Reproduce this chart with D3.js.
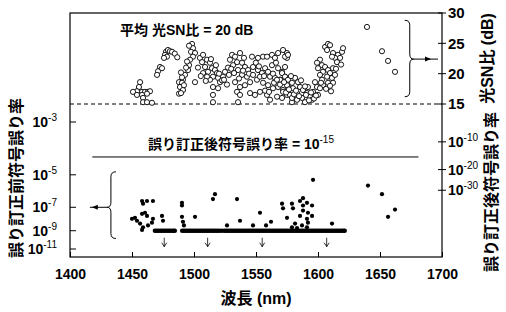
<!DOCTYPE html>
<html>
<head>
<meta charset="utf-8">
<script src="https://cdn.jsdelivr.net/npm/d3@7"></script>
<style>
  body { margin: 0; background: #fff; }
  svg { display: block; }
</style>
</head>
<body>
<script>
// upper panel: OSNR per channel (wavelength nm, dB)
const osnrWl = [
  1477.4,1479.0,1480.6,1476.6,1478.2,1475.8,1472.6,1471.0,1470.2,1456.5,1455.6,1454.0,1450.8,1458.1,1460.5,
  1462.9,1464.5,1454.0,1458.1,1462.1,1458.9,1458.9,1462.1,1466.1,1487.9,1487.9,1482.3,1498.4,1499.2,1497.6,
  1500.8,1499.2,1496.8,1496.0,1495.2,1492.7,1491.1,1490.3,1488.7,1491.1,1489.5,1491.9,1500.8,1504.8,1507.3,
  1506.5,1510.5,1512.9,1508.9,1514.5,1516.9,1511.3,1518.6,1507.3,1515.3,1519.4,1512.9,1521.0,1510.5,1523.4,
  1525.0,1515.3,1515.3,1530.7,1533.1,1537.1,1529.0,1534.7,1538.7,1531.5,1541.1,1535.5,1543.6,1538.7,1533.1,
  1537.1,1534.7,1537.1,1541.1,1545.2,1546.8,1551.6,1555.7,1558.9,1562.9,1565.3,1547.6,1551.6,1554.8,1557.3,
  1559.7,1562.9,1566.1,1567.8,1571.0,1573.4,1561.3,1565.3,1569.4,1573.4,1550.8,1555.7,1559.7,1563.7,1567.8,
  1571.8,1553.2,1549.2,1558.9,1561.3,1567.0,1571.0,1575.0,1575.8,1545.2,1575.0,1571.8,1567.8,1515.3,1535.5,
  1575.0,1573.4,1571.0,1573.4,1569.4,1575.8,1579.0,1581.5,1583.9,1575.0,1579.8,1585.5,1587.9,1583.1,1577.4,
  1591.1,1587.1,1593.6,1589.5,1595.2,1596.0,1599.2,1597.6,1600.0,1571.8,1579.8,1591.9,1579.0,1605.7,1608.1,
  1609.7,1607.3,1612.1,1616.1,1619.4,1620.2,1617.8,1613.7,1611.3,1615.3,1601.6,1599.2,1603.2,1605.7,1608.1,
  1600.0,1604.0,1609.7,1612.1,1601.6,1607.3,1611.3,1603.2,1608.1,1612.1,1613.7,1604.0,1610.5,1601.6,1575.8,
  1639.5,1651.6,1656.5,1662.1,1579.0,1583.1,1484.5,1486.5,1474.2,
  1503.2,1505.5,1509.5,1513.7,1517.7,1520.2,1522.6,1524.2,1526.6,1519.4,1527.4,1528.2,1530.0,1532.3,1536.3,
  1539.5,1540.3,1542.7,1544.4,1547.6,1549.9,1552.4,1553.2,1556.5,1557.3,1560.5,1563.7,1564.5,1566.9,1569.4,
  1572.6,1574.2,1576.6,1578.2,1580.6,1582.3,1584.7,1586.3,1589.5,1590.3,1592.7,1594.4,1596.8,1598.4,1602.4,
  1606.5,1609.7,1614.5,1618.6,1496.0,1494.4,1493.6,1490.3,1489.5
];
const osnrDb = [
  23.6,23.9,23.7,23.1,22.8,22.6,21.1,20.4,19.8,18.6,17.8,17.1,17.0,17.0,17.0,
  17.0,17.1,16.5,16.5,16.7,16.0,15.3,15.3,15.2,18.6,16.7,23.6,24.9,24.2,23.6,
  23.4,22.8,22.3,21.4,20.6,19.8,19.0,18.5,17.8,17.3,16.8,18.1,18.6,22.6,23.1,
  21.9,22.3,21.8,21.1,20.9,20.6,20.3,20.1,20.1,19.5,19.3,19.0,18.6,19.5,19.5,
  20.3,17.8,16.5,23.1,22.8,23.4,22.3,21.9,21.8,21.4,21.1,20.6,20.6,19.8,18.6,
  17.8,17.0,16.5,18.1,18.6,22.8,22.6,22.8,22.8,23.1,22.6,21.1,20.6,20.1,20.9,
  20.3,21.4,21.8,20.9,20.3,21.1,19.5,19.3,19.0,19.5,19.0,18.5,18.1,17.6,17.8,
  17.3,17.0,16.5,16.5,15.7,16.2,16.0,16.5,17.8,16.8,22.6,23.9,23.4,15.3,15.3,
  23.4,22.8,20.1,19.5,19.0,19.0,18.5,19.3,18.6,18.1,17.6,17.8,17.3,16.8,16.5,
  16.8,16.0,16.2,15.3,15.7,17.0,17.8,18.6,16.5,17.0,15.7,17.8,15.3,24.4,24.9,
  24.7,23.9,23.4,23.1,23.6,24.2,22.6,22.6,22.8,21.9,22.3,21.8,21.4,21.1,20.6,
  20.9,20.3,20.1,20.9,19.8,19.5,19.3,19.0,18.5,18.5,19.8,18.1,17.1,17.6,23.1,
  27.7,23.7,22.1,20.3,16.0,15.7,23.3,22.7,20.9,
  21.0,19.6,18.8,22.4,21.4,20.0,18.9,19.0,18.2,17.6,21.0,19.8,20.8,20.1,19.2,
  20.5,22.6,19.5,20.0,19.8,21.8,21.2,19.5,19.6,17.2,17.0,20.0,18.5,19.0,18.2,
  18.6,16.9,17.4,19.6,16.6,17.2,16.3,18.9,17.9,16.5,15.6,16.9,15.9,16.4,18.5,
  17.5,18.0,20.8,21.5,24.6,22.0,21.0,19.4,20.2
];

// lower panel: pre-FEC BER (log10) of channels above the floor
const berWl = [
  1458.1,1462.1,1466.9,1458.9,1450.0,1452.4,1454.0,1456.5,1458.1,1462.1,1462.9,1466.1,1466.9,1458.1,1458.9,
  1460.5,1474.2,1475.0,1490.3,1490.3,1490.3,1491.1,1491.9,1500.8,1516.9,1515.3,1534.7,1526.6,1537.1,1547.6,
  1553.2,1558.1,1562.1,1611.3,1596.0,1571.0,1571.8,1579.0,1579.8,1585.5,1587.9,1591.1,1595.2,1587.9,1591.9,
  1585.5,1591.1,1575.0,1581.5,1587.1,1591.1,1579.0,1583.1,1591.9,1595.2,1587.9,1640.3,1651.6,1656.5,1662.1
];
const berLog = [
  -6.55,-6.55,-6.55,-6.74,-7.92,-7.83,-8.08,-8.33,-7.5,-7.67,-8.5,-8.25,-7.92,-8.92,-8.67,
  -7.42,-7.67,-8.08,-6.68,-6.87,-7.75,-8.17,-8.5,-7.75,-6.1,-6.42,-6.42,-8.5,-8.08,-8.5,
  -7.42,-8.5,-8.17,-8.33,-5.26,-6.74,-7.08,-6.74,-7.08,-6.55,-6.87,-6.68,-6.87,-7.25,-7.42,
  -7.67,-7.92,-7.83,-8.33,-8.5,-8.67,-8.67,-8.75,-8.25,-7.67,-6.36,-5.58,-6.1,-7.75,-7.17
];
// channels at the 1e-9 measurement floor
const floorWl = [
  1468.5,1470,1471.5,1473,1474.5,1476,1477.5,1479,1480.5,1482,1483.5,1484.5,
  1490.5,1492,1493.5,1495,1496.5,1498,1499.5,1501,1502.5,1504,1505.5,1507,1508.5,1510,1511.5,1513,
  1514.5,1516,1517.5,1519,1520.5,1522.5,1524.5,1526,1527.5,1529,1530.5,1532,1533.5,1535,1536.5,1538,
  1539.5,1541,1542.5,1544,1545.5,1547,1548.5,1550,1551.5,1553,1554.5,1556,1557.5,1559,1560.5,1562,
  1563.5,1565,1566.5,1568,1569.5,1571,1572.5,1574,1575.5,1577,1578.5,1580,1581.5,1583,1584.5,1586,
  1587.5,1589,1590.5,1592,1593.5,1595,1596.5,1598,1599.5,1601,1602.5,1604,1605.5,1607,1608.5,1610,
  1611.5,1613,1614.5,1616,1617.5,1619,1620.5,1621.5
];
const floorLog = -9;
const arrowWl = [1476, 1511, 1555, 1607];

const xTicks = [1400, 1450, 1500, 1550, 1600, 1650, 1700];
const osnrTicks = [15, 20, 25, 30];
const preTicks = [-3, -5, -7, -9, -11];
const postTicks = [-10, -20, -30];
const postTarget = -15;

const latin = "'Liberation Sans', Arial, 'Noto Sans CJK JP', sans-serif";
const W = 506, H = 312;
const L = 70, R = 442, T = 13, B = 257;

// erfc with small relative error in the tails
function erfc(z) {
  const t = 1 / (1 + 0.5 * z);
  return t * Math.exp(-z * z - 1.26551223 + t * (1.00002368 + t * (0.37409196 + t * (0.09678418 +
    t * (-0.18628806 + t * (0.27886807 + t * (-1.13520398 + t * (1.48851587 +
    t * (-0.82215223 + t * 0.17087277)))))))));
}
function qOf(ber) {
  let lo = 0, hi = 20;
  for (let k = 0; k < 60; k++) {
    const m = (lo + hi) / 2;
    if (0.5 * erfc(m / Math.SQRT2) > ber) lo = m; else hi = m;
  }
  return (lo + hi) / 2;
}
const qdb = ber => 20 * Math.log10(qOf(ber));

// RS(255,239) decoded error rate for an input bit error rate p
function rsOut(p) {
  const n = 255, t = 8;
  const ps = 1 - Math.pow(1 - p, 8);
  let logC = 0, sum = 0;
  for (let i = 1; i <= 120; i++) {
    logC += Math.log((n - i + 1) / i);
    if (i > t) sum += i / n * Math.exp(logC + i * Math.log(ps) + (n - i) * Math.log(1 - ps));
  }
  return sum;
}
function preFromPost(post) {
  let lo = -12, hi = -1;
  for (let k = 0; k < 60; k++) {
    const m = (lo + hi) / 2;
    if (rsOut(Math.pow(10, m)) < post) lo = m; else hi = m;
  }
  return (lo + hi) / 2;
}

const x = d3.scaleLinear().domain([1400, 1700]).range([L, R]);
const yO = d3.scaleLinear().domain([15, 30]).range([104, T]);
const yQ = d3.scaleLinear().domain([qdb(1e-3), qdb(1e-11)]).range([122, 249]);
const yB = e => yQ(qdb(Math.pow(10, e)));
const yPost = e => yB(preFromPost(Math.pow(10, e)));

const svg = d3.select("body").append("svg")
  .attr("width", W)
  .attr("height", H)
  .style("font-family", latin);

// frame
svg.append("rect")
  .attr("x", L).attr("y", T)
  .attr("width", R - L).attr("height", B - T)
  .style("fill", "none")
  .style("stroke", "#000")
  .style("stroke-width", 1.2);

// bottom axis, ticks inside
const gx = svg.append("g")
  .attr("transform", `translate(0,${B})`)
  .call(d3.axisBottom(x).tickValues(xTicks).tickSizeInner(-5).tickSizeOuter(0).tickPadding(12).tickFormat(d3.format("d")));
gx.select(".domain").remove();
gx.selectAll("line").style("stroke", "#000");
gx.selectAll("text").style("font-size", "14px").style("font-weight", "bold").style("font-family", latin);

svg.append("text")
  .attr("x", (L + R) / 2)
  .attr("y", 304)
  .style("text-anchor", "middle")
  .style("font-size", "16px")
  .style("font-weight", "bold")
  .text("波長 (nm)");

// right axis, OSNR
const go = svg.append("g").selectAll("g").data(osnrTicks).enter().append("g");
go.append("line")
  .attr("x1", R - 4).attr("x2", R + 4)
  .attr("y1", d => yO(d)).attr("y2", d => yO(d))
  .style("stroke", "#000");
go.append("text")
  .attr("x", R + 6)
  .attr("y", d => yO(d))
  .attr("dy", "0.36em")
  .style("font-size", "15px")
  .style("font-weight", "bold")
  .text(d => d);

svg.append("text")
  .attr("transform", `translate(493,${(T + 104) / 2}) rotate(-90)`)
  .style("text-anchor", "middle")
  .style("font-size", "16px")
  .style("font-weight", "bold")
  .text("光SN比 (dB)");

// left axis, pre-FEC BER
const gp = svg.append("g").selectAll("g").data(preTicks).enter().append("g");
gp.append("line")
  .attr("x1", L).attr("x2", L + 6)
  .attr("y1", d => yB(d)).attr("y2", d => yB(d))
  .style("stroke", "#000");
const tp = gp.append("text")
  .attr("x", L - 13)
  .attr("y", d => yB(d) + 5)
  .style("text-anchor", "end");
tp.append("tspan").style("font-size", "14px").style("font-weight", "bold").text("10");
tp.append("tspan").attr("dy", -6).style("font-size", "10px").text(d => d);

svg.append("text")
  .attr("transform", `translate(22,178) rotate(-90)`)
  .style("text-anchor", "middle")
  .style("font-size", "16px")
  .style("font-weight", "bold")
  .text("誤り訂正前符号誤り率");

// right axis, post-FEC BER
const gq = svg.append("g").selectAll("g").data(postTicks).enter().append("g");
gq.append("line")
  .attr("x1", R - 4).attr("x2", R + 4)
  .attr("y1", d => yPost(d)).attr("y2", d => yPost(d))
  .style("stroke", "#000");
const tq = gq.append("text")
  .attr("x", R + 6)
  .attr("y", d => yPost(d) + 5);
tq.append("tspan").style("font-size", "14px").style("font-weight", "bold").text("10");
tq.append("tspan").attr("dy", -6).style("font-size", "10px").text(d => d);

svg.append("text")
  .attr("transform", `translate(497,192) rotate(-90)`)
  .style("text-anchor", "middle")
  .style("font-size", "16px")
  .style("font-weight", "bold")
  .text("誤り訂正後符号誤り率");

// OSNR 15 dB dashed separator
svg.append("line")
  .attr("x1", L).attr("x2", R)
  .attr("y1", yO(15)).attr("y2", yO(15))
  .style("stroke", "#000")
  .style("stroke-dasharray", "4,3");

// annotations
svg.append("text")
  .attr("x", 120).attr("y", 35)
  .style("font-size", "14px")
  .style("font-weight", "bold")
  .text("平均 光SN比 = 20 dB");

const yT = yPost(postTarget);
svg.append("line")
  .attr("x1", x(1418)).attr("x2", x(1681))
  .attr("y1", yT).attr("y2", yT)
  .style("stroke", "#000");
const tt = svg.append("text")
  .attr("x", 148).attr("y", yT - 8)
  .style("font-size", "14px")
  .style("font-weight", "bold");
tt.append("tspan").text("誤り訂正後符号誤り率 = 10");
tt.append("tspan").attr("dy", -6).style("font-size", "10px").style("font-weight", "normal").text(postTarget);

// OSNR points
svg.append("g").selectAll("circle")
  .data(osnrWl.map((w, i) => ({w, v: osnrDb[i]})))
  .enter().append("circle")
  .attr("cx", d => x(d.w))
  .attr("cy", d => yO(d.v))
  .attr("r", 2.6)
  .style("fill", "#fff")
  .style("stroke", "#000")
  .style("stroke-width", 0.9);

// BER floor and points
svg.append("g").selectAll("circle")
  .data(floorWl)
  .enter().append("circle")
  .attr("cx", d => x(d))
  .attr("cy", yB(floorLog))
  .attr("r", 2.3)
  .style("fill", "#000");

svg.append("g").selectAll("circle")
  .data(berWl.map((w, i) => ({w, v: berLog[i]})))
  .enter().append("circle")
  .attr("cx", d => x(d.w))
  .attr("cy", d => yB(d.v))
  .attr("r", 2.1)
  .style("fill", "#000");

// small down arrows below the floor
svg.append("g").selectAll("path")
  .data(arrowWl)
  .enter().append("path")
  .attr("d", d => {
    const ax = x(d), y0 = yB(floorLog) + 7, y1 = yB(floorLog) + 16;
    return `M${ax},${y0}L${ax},${y1}M${ax - 2.5},${y1 - 4}L${ax},${y1}L${ax + 2.5},${y1 - 4}`;
  })
  .style("fill", "none")
  .style("stroke", "#000")
  .style("stroke-width", 0.8);

// brace + arrow to the axis it refers to
function brace(bx, yt, yb, ym, dir) {
  return `M${bx - 5 * dir},${yt}Q${bx},${yt} ${bx},${yt + 5}L${bx},${ym - 5}Q${bx},${ym} ${bx + 4 * dir},${ym}` +
    `Q${bx},${ym} ${bx},${ym + 5}L${bx},${yb - 5}Q${bx},${yb} ${bx - 5 * dir},${yb}`;
}
const ub = x(1674), um = yO(22.4);
svg.append("path")
  .attr("d", brace(ub, yO(28.8), yO(16.2), um, 1))
  .style("fill", "none").style("stroke", "#000");
svg.append("line")
  .attr("x1", ub + 4).attr("x2", R - 4)
  .attr("y1", um).attr("y2", um)
  .style("stroke", "#000");
svg.append("path")
  .attr("d", `M${R - 17},${um - 2.5}L${R - 11},${um}L${R - 17},${um + 2.5}Z`)
  .style("fill", "#000");

const lb = x(1433), lm = yB(-7), le = x(1416);
svg.append("path")
  .attr("d", brace(lb, yB(-4.85), yB(-9.8), lm, -1))
  .style("fill", "none").style("stroke", "#000");
svg.append("line")
  .attr("x1", lb - 4).attr("x2", le)
  .attr("y1", lm).attr("y2", lm)
  .style("stroke", "#000");
svg.append("path")
  .attr("d", `M${le + 2},${lm}L${le + 8},${lm - 2.5}L${le + 8},${lm + 2.5}Z`)
  .style("fill", "#000");
</script>
</body>
</html>
